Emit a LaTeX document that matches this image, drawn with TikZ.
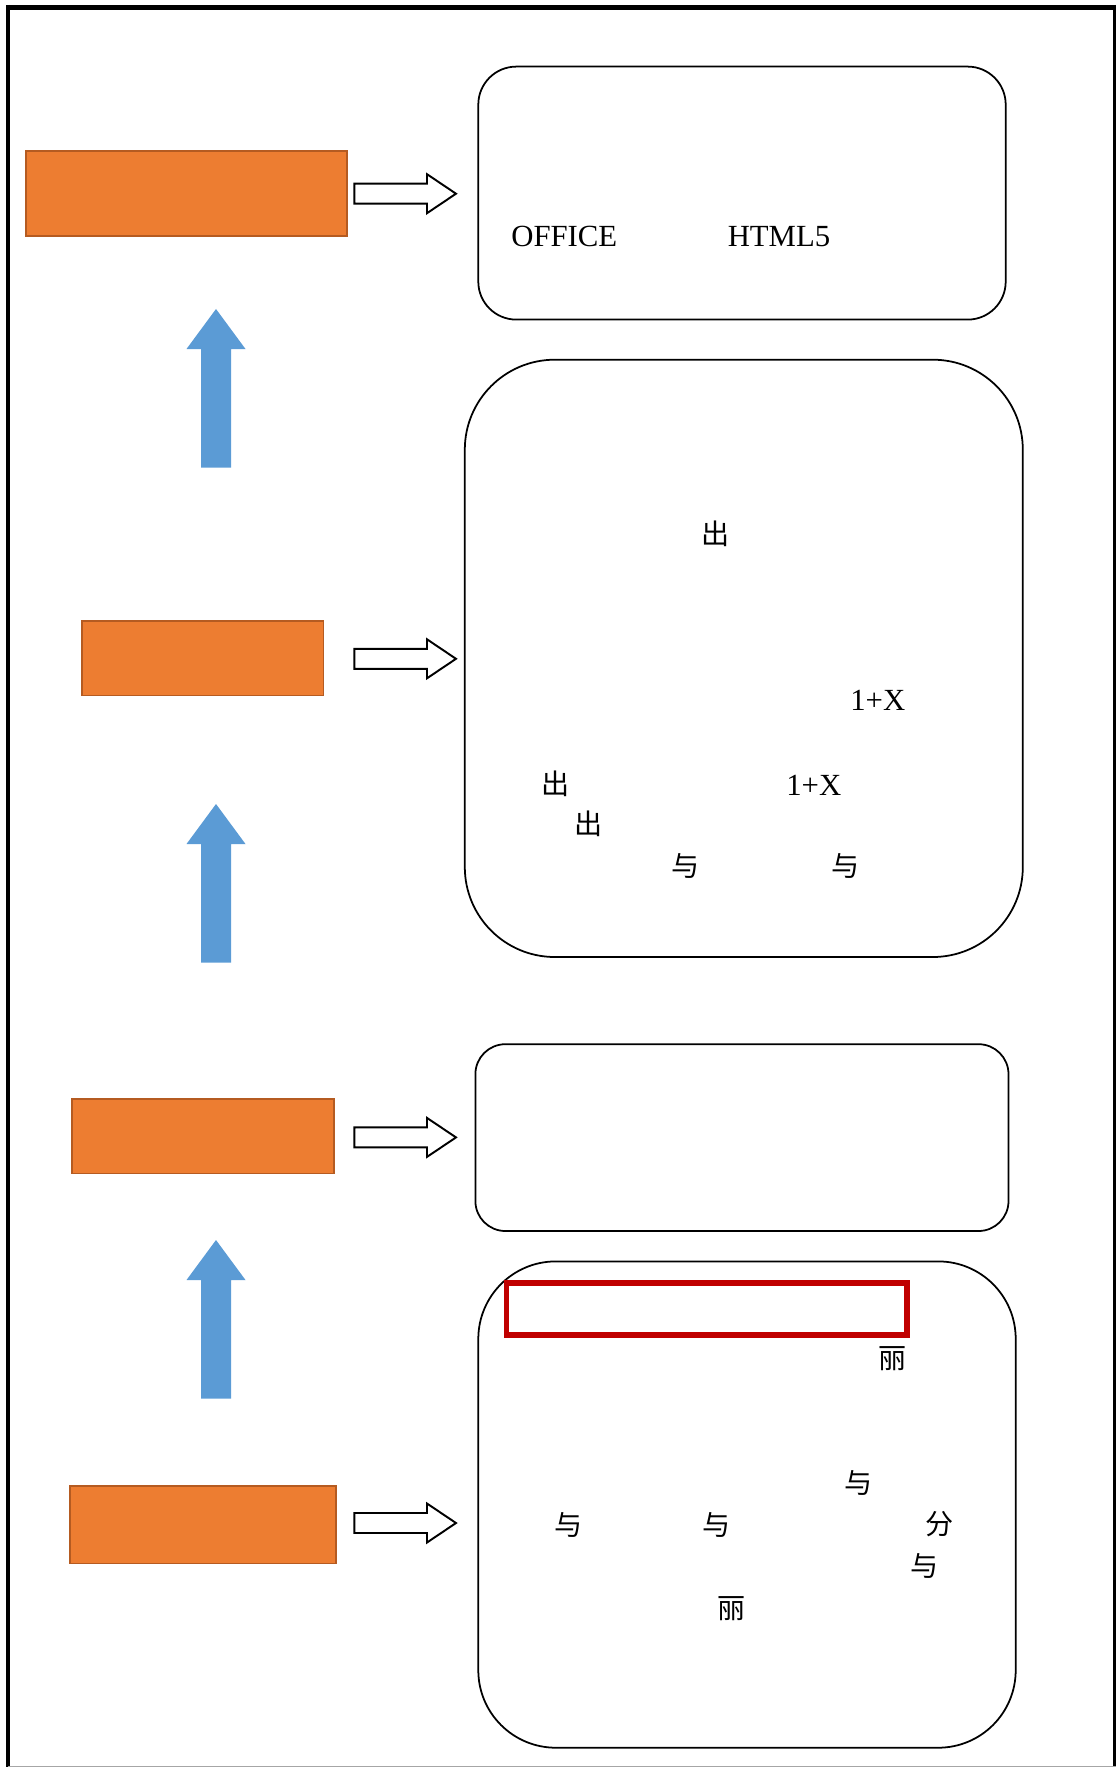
\documentclass[tikz,border=0pt]{standalone}
\usepackage{fontspec}
\setmainfont{Liberation Serif}
\newfontfamily\cjk{Noto Sans CJK SC}
\usepackage{tikz}
\usetikzlibrary{calc}
\definecolor{myorange}{RGB}{237,125,49}
\definecolor{myorange2}{RGB}{181,91,33}
\definecolor{myblue}{RGB}{91,155,213}
\definecolor{myred}{RGB}{192,0,0}

\begin{document}
\begin{tikzpicture}[x=0.02cm, y=-0.02cm,
  every node/.style={inner sep=0pt, font=\fontsize{17.5}{20}\selectfont},
  zh/.style={font=\fontsize{16}{19}\selectfont\cjk}]
\useasboundingbox (0,0) rectangle (1116,1767);

% page frame
\draw[line width = 0.1cm] (6,7.5) -- (1116,7.5);
\draw[line width = 0.08cm] (8,5) -- (8,1767);
\draw[line width = 0.06cm] (1114.5,5) -- (1114.5,1767);
\draw[gray!70, line width = 0.5pt] (8,1766) -- (1116,1766);

% orange boxes
\draw[fill = myorange, draw = myorange2, line width = 1pt] (26,151) rectangle (347,236);
\draw[fill = myorange, draw = myorange2, line width = 1pt] (82.3,621) rectangle (323.5,695.5);
\draw[fill = myorange, draw = myorange2, line width = 1pt] (72.2,1099) rectangle (333.7,1173.5);
\draw[fill = myorange, draw = myorange2, line width = 1pt] (69.9,1485.8) rectangle (336,1563.6);

% blue arrows
\foreach \t in {309, 804, 1240}{
\fill[myblue] (201,{\t+158.5}) -- (201,{\t+40}) -- (186.5,{\t+40}) -- (216,\t)
  -- (245.5,{\t+40}) -- (231,{\t+40}) -- (231,{\t+158.5}) -- cycle;
}

% white arrows
\foreach \c in {193.7, 658.8, 1137.4, 1523}{
\draw[fill = white, line width = 1.1pt] (354.4,{\c-10}) -- (427,{\c-10}) -- (427,{\c-19.5})
  -- (456,\c) -- (427,{\c+19.5}) -- (427,{\c+10}) -- (354.4,{\c+10}) -- cycle;
}

% panels
\draw[line width = 1pt, rounded corners=0.76cm] (478.3,66.6) rectangle (1005.7,319.6);
\draw[line width = 1pt, rounded corners=1.8cm] (464.8,359.7) rectangle (1022.8,957);
\draw[line width = 1pt, rounded corners=0.6cm] (475.4,1044.2) rectangle (1008.5,1231);
\draw[line width = 1pt, rounded corners=1.55cm] (478.3,1261.4) rectangle (1015.7,1747.7);
\draw[myred, line width = 3pt] (506.6,1283) rectangle (907,1335);

% texts
\node[anchor = base west] (office) at (511,246.8) {OFFICE};
\node[anchor = base west] (html) at (727.4,246.8) {HTML5};

\node[zh] (chu1) at (715.8,533.7) {出};
\node[anchor = base west] (onex1) at (850,710) {1+X};
\node[zh] (chu2) at (555.8,783.9) {出};
\node[anchor = base west] (onex2) at (786,795) {1+X};
\node[zh] (chu3) at (588.4,823.3) {出};
\node[zh] (yu1) at (685.2,865.7) {与};
\node[zh] (yu2) at (845.3,865.7) {与};

\node[zh] (li1) at (893,1358.7) {丽};
\node[zh] (yu3) at (859,1483) {与};
\node[zh] (yu4) at (568.6,1524.5) {与};
\node[zh] (yu5) at (716.2,1524.5) {与};
\node[zh] (fen) at (940,1524) {分};
\node[zh] (yu6) at (924.7,1565.7) {与};
\node[zh] (li2) at (731.6,1608.8) {丽};

\end{tikzpicture}
\end{document}
